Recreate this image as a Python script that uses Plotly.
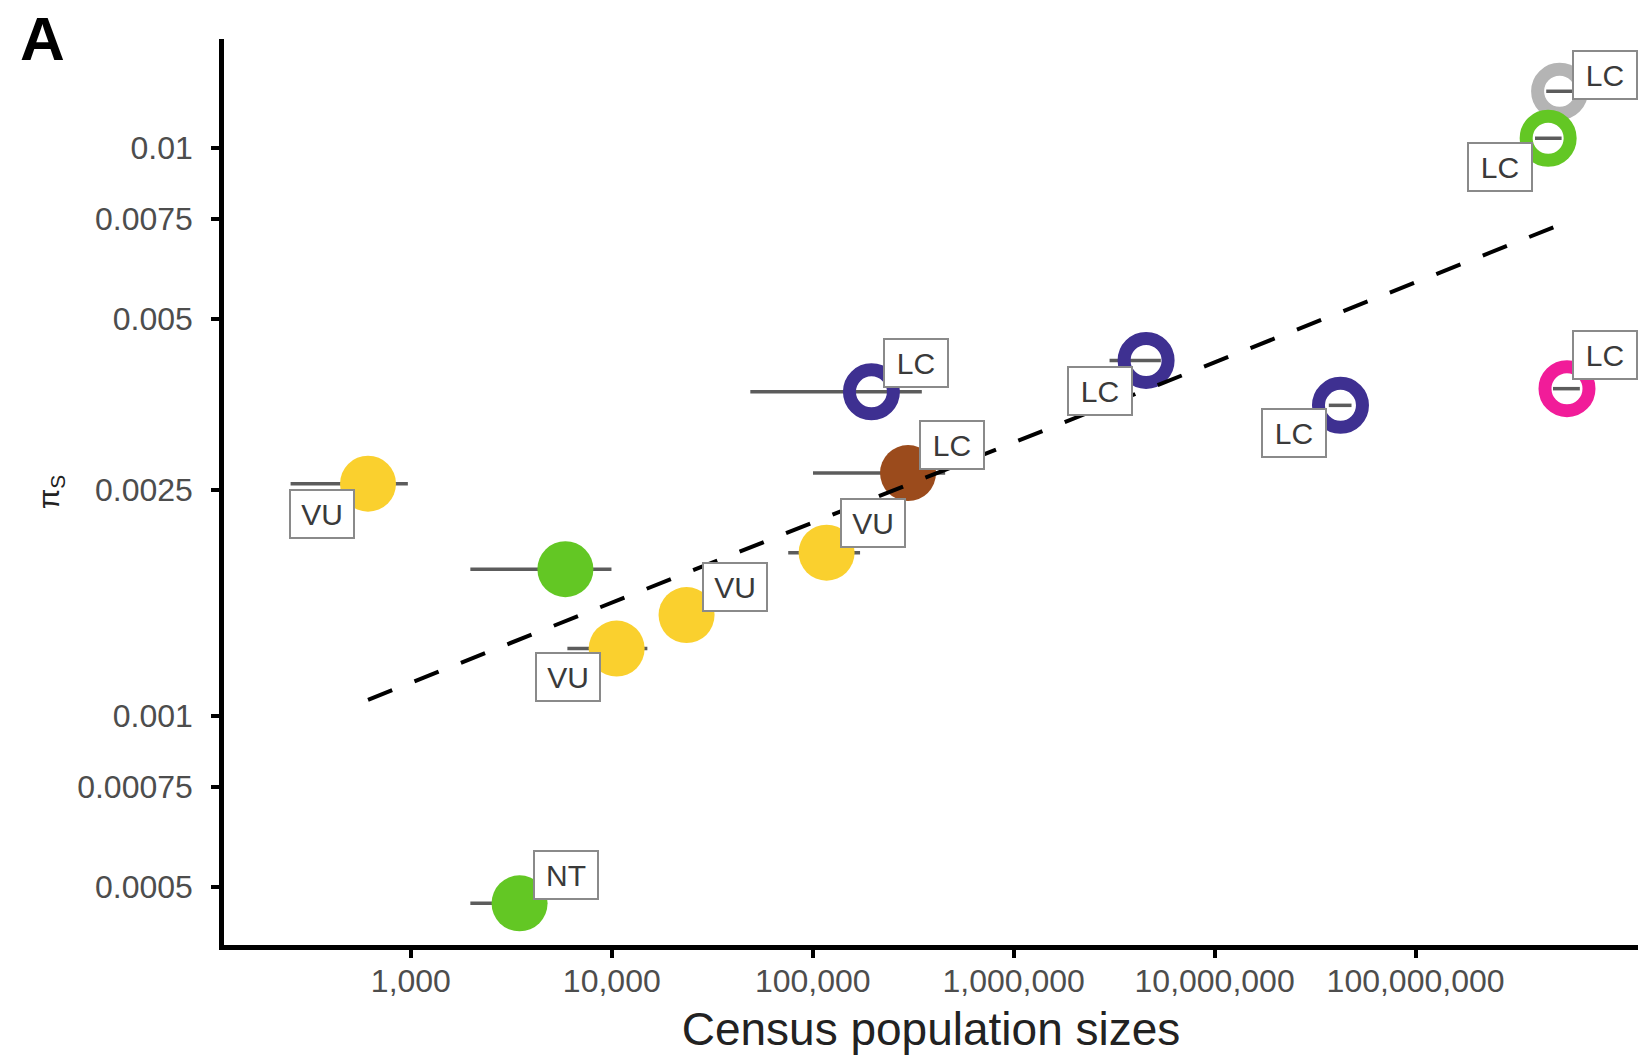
import math
import plotly.graph_objects as go

# Census population size (point estimate and range) and synonymous diversity
census_size = [612, 5875, 10570, 23550, 117200, 298000, 195900,
               4.56e6, 4.23e7, 5.21e8, 4.57e8, 5.67e8, 3475]
census_low = [252, 1977, 6010, None, 75500, 100300, 48900,
              3.0e6, 3.7e7, 4.47e8, 3.93e8, 4.83e8, 1977]
census_high = [966, 9960, 15030, None, 172000, 456000, 349000,
               5.4e6, 4.8e7, 6.06e8, 5.33e8, 6.57e8, 4400]
pi_s = [0.00256, 0.00181, 0.001312, 0.001503, 0.001936, 0.002673, 0.003716,
        0.004220, 0.003518, 0.01257, 0.01039, 0.003764, 0.000467]
iucn_status = ["VU", None, "VU", "VU", "VU", "LC", "LC",
               "LC", "LC", "LC", "LC", "LC", "NT"]

# Regression line end points
trend_x = [612, 5.67e8]
trend_y = [0.001066, 0.0074]

x_tick_vals = [1e3, 1e4, 1e5, 1e6, 1e7, 1e8]
x_tick_text = ["1,000", "10,000", "100,000", "1,000,000", "10,000,000", "100,000,000"]
y_tick_vals = [0.0005, 0.00075, 0.001, 0.0025, 0.005, 0.0075, 0.01]
y_tick_text = ["0.0005", "0.00075", "0.001", "0.0025", "0.005", "0.0075", "0.01"]

# Styling per point
YELLOW, GREEN, BROWN, INDIGO = "#FAD02E", "#63C724", "#9B4B1C", "#3E3091"
GREY, PINK = "#B4B4B4", "#F11C99"
point_color = [YELLOW, GREEN, YELLOW, YELLOW, YELLOW, BROWN, INDIGO,
               INDIGO, INDIGO, GREY, GREEN, PINK, GREEN]
point_open = [False, False, False, False, False, False, True,
              True, True, True, True, True, False]
# label offsets in pixels (right, up)
label_shift = [(-46, -30), None, (-49, -28), (48, 28), (46, 30), (44, 28), (45, 29),
               (-46, -31), (-46, -28), (45, 16), (-48, -29), (38, 34), (46, 28)]

FONT = "Liberation Sans, Arial, Helvetica, sans-serif"

fig = go.Figure()

# horizontal range bars
bx, by = [], []
for lo, hi, y in zip(census_low, census_high, pi_s):
    if lo is None:
        continue
    bx += [lo, hi, None]
    by += [y, y, None]
fig.add_trace(go.Scatter(x=bx, y=by, mode="lines",
                         line=dict(color="#5c5c5c", width=3.5),
                         hoverinfo="skip", showlegend=False))

# filled points
fi = [i for i in range(len(pi_s)) if not point_open[i]]
fig.add_trace(go.Scatter(
    x=[census_size[i] for i in fi], y=[pi_s[i] for i in fi], mode="markers",
    marker=dict(size=56, color=[point_color[i] for i in fi], line=dict(width=0)),
    showlegend=False))

# open points
oi = [i for i in range(len(pi_s)) if point_open[i]]
fig.add_trace(go.Scatter(
    x=[census_size[i] for i in oi], y=[pi_s[i] for i in oi], mode="markers",
    marker=dict(symbol="circle-open", size=44, color=[point_color[i] for i in oi],
                line=dict(width=13)),
    showlegend=False))

# trend line
fig.add_trace(go.Scatter(x=trend_x, y=trend_y, mode="lines",
                         line=dict(color="black", width=4, dash="26px,24px"),
                         hoverinfo="skip", showlegend=False))

# status labels
for i, lab in enumerate(iucn_status):
    if lab is None:
        continue
    dx, dy = label_shift[i]
    fig.add_annotation(
        x=math.log10(census_size[i]), y=math.log10(pi_s[i]), xref="x", yref="y",
        text=lab, showarrow=False, xshift=dx, yshift=dy,
        font=dict(family=FONT, size=30, color="#3a3a3a"),
        bgcolor="white", bordercolor="#8a8a8a", borderwidth=2, borderpad=2,
        width=58, height=42)

# panel letter, positioned in pixels via paper fractions
L, R, T, B = 224, 0, 39, 112
pw, ph = 1638 - L - R, 1057 - T - B
fig.add_annotation(x=(42 - L) / pw, y=(1057 - B - 38) / ph,
                   xref="paper", yref="paper", xanchor="center", yanchor="middle",
                   text="<b>A</b>", showarrow=False,
                   font=dict(family=FONT, size=62, color="black"))

fig.update_layout(
    width=1638, height=1057,
    margin=dict(l=L, r=R, t=T, b=B),
    paper_bgcolor="white", plot_bgcolor="white",
    showlegend=False,
    font=dict(family=FONT),
)

fig.update_xaxes(
    type="log", range=[2.070, 9.107],
    tickvals=x_tick_vals, ticktext=x_tick_text,
    showline=True, linecolor="black", linewidth=4.5,
    ticks="outside", ticklen=8, tickwidth=4, tickcolor="black",
    tickfont=dict(family=FONT, size=32, color="#4d4d4d"),
    ticklabelstandoff=-4,
    showgrid=False, zeroline=False,
    title=dict(text="Census population sizes", standoff=16,
               font=dict(family=FONT, size=46, color="#222222")),
)
fig.update_yaxes(
    type="log", range=[-3.404, -1.8086],
    tickvals=y_tick_vals, ticktext=y_tick_text,
    showline=True, linecolor="black", linewidth=4.5,
    ticks="outside", ticklen=8, tickwidth=4, tickcolor="black",
    tickfont=dict(family=FONT, size=32, color="#4d4d4d"),
    ticklabelstandoff=12,
    showgrid=False, zeroline=False,
    title=dict(text="π<sub>S</sub>", standoff=10,
               font=dict(family=FONT, size=30, color="#222222")),
)

fig.write_html("out.html")
